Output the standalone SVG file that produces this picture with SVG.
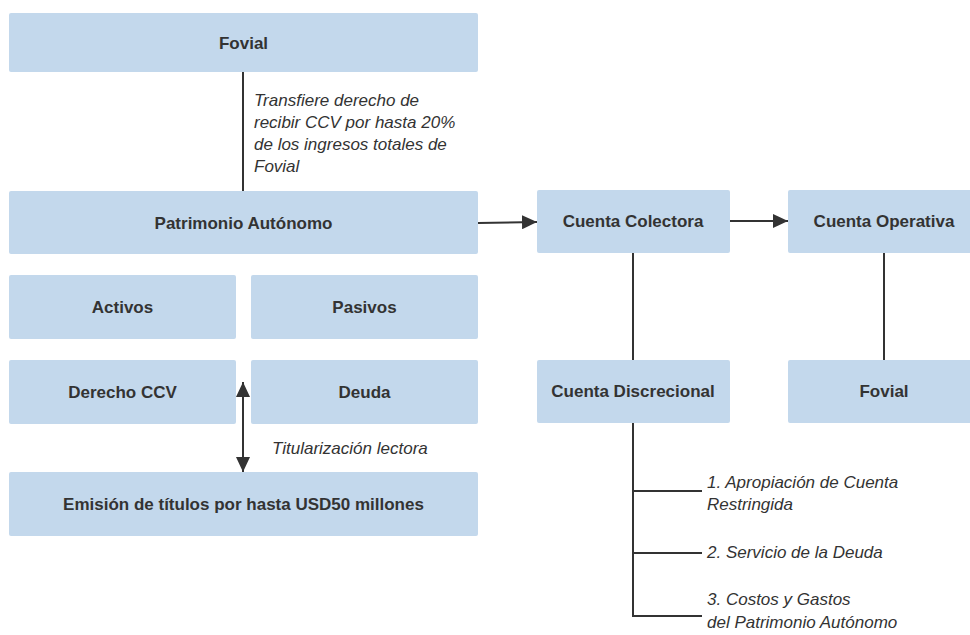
<svg xmlns="http://www.w3.org/2000/svg" width="970" height="635" viewBox="0 0 970 635">
<style>
.box{fill:#c3d8ec;}
.b{font-family:"Liberation Sans",Arial,sans-serif;font-weight:bold;font-size:17px;fill:#333333;text-anchor:middle;}
.i{font-family:"Liberation Sans",Arial,sans-serif;font-style:italic;font-size:17px;fill:#333333;}
.ln{stroke:#333333;stroke-width:2;fill:none;}
</style>
<defs>
<marker id="ah" viewBox="0 0 15 14" refX="15" refY="7" markerWidth="15" markerHeight="14" markerUnits="userSpaceOnUse" orient="auto-start-reverse">
<path d="M0,0 L15,7 L0,14 Z" fill="#333333"/>
</marker>
</defs>
<rect width="970" height="635" fill="#ffffff"/>
<g id="connectors">
<line class="ln" x1="243" y1="72" x2="243" y2="191"/>
<line class="ln" x1="478" y1="223" x2="537" y2="222" marker-end="url(#ah)"/>
<line class="ln" x1="730" y1="221" x2="788" y2="221" marker-end="url(#ah)"/>
<line class="ln" x1="633" y1="253" x2="633" y2="360"/>
<line class="ln" x1="884" y1="253" x2="884" y2="360"/>
<line class="ln" x1="243" y1="382" x2="243" y2="472" marker-start="url(#ah)" marker-end="url(#ah)"/>
<polyline class="ln" points="633,423 633,616 702,616"/>
<line class="ln" x1="633" y1="491" x2="702" y2="491"/>
<line class="ln" x1="633" y1="553" x2="702" y2="553"/>
<text class="i" x="254" y="106">Transfiere derecho de</text>
<text class="i" x="254" y="128">recibir CCV por hasta 20%</text>
<text class="i" x="254" y="150">de los ingresos totales de</text>
<text class="i" x="254" y="172">Fovial</text>
<text class="i" x="272" y="454">Titularización lectora</text>
<text class="i" x="707" y="488">1. Apropiación de Cuenta</text>
<text class="i" x="707" y="510">Restringida</text>
<text class="i" x="707" y="558">2. Servicio de la Deuda</text>
<text class="i" x="707" y="605">3. Costos y Gastos</text>
<text class="i" x="707" y="628">del Patrimonio Autónomo</text>
</g>
<g id="fovial-top"><rect class="box" x="9" y="13" width="469" height="59" rx="2"/><text class="b" x="243.5" y="49">Fovial</text></g>
<g id="patrimonio"><rect class="box" x="9" y="191" width="469" height="63" rx="2"/><text class="b" x="243.5" y="229">Patrimonio Autónomo</text></g>
<g id="activos"><rect class="box" x="9" y="275" width="227" height="64" rx="2"/><text class="b" x="122.5" y="313">Activos</text></g>
<g id="pasivos"><rect class="box" x="251" y="275" width="227" height="64" rx="2"/><text class="b" x="364.5" y="313">Pasivos</text></g>
<g id="derecho"><rect class="box" x="9" y="360" width="227" height="64" rx="2"/><text class="b" x="122.5" y="398">Derecho CCV</text></g>
<g id="deuda"><rect class="box" x="251" y="360" width="227" height="64" rx="2"/><text class="b" x="364.5" y="398">Deuda</text></g>
<g id="emision"><rect class="box" x="9" y="472" width="469" height="64" rx="2"/><text class="b" x="243.5" y="510">Emisión de títulos por hasta USD50 millones</text></g>
<g id="colectora"><rect class="box" x="537" y="190" width="193" height="63" rx="2"/><text class="b" x="633" y="227">Cuenta Colectora</text></g>
<g id="operativa"><rect class="box" x="788" y="190" width="193" height="63" rx="2"/><text class="b" x="884" y="227">Cuenta Operativa</text></g>
<g id="discrecional"><rect class="box" x="537" y="360" width="193" height="63" rx="2"/><text class="b" x="633" y="397">Cuenta Discrecional</text></g>
<g id="fovial-right"><rect class="box" x="788" y="360" width="193" height="63" rx="2"/><text class="b" x="884" y="397">Fovial</text></g>
</svg>
